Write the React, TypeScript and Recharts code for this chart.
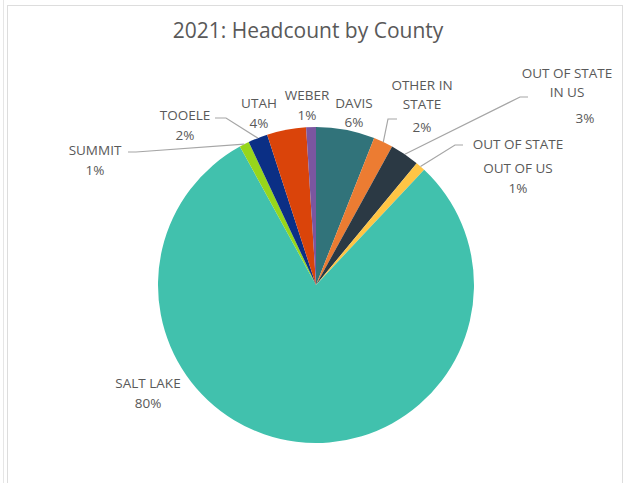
import React from 'react'
import { PieChart, Pie, Cell } from 'recharts'

// Headcount share by county (percent)
const counties = [
  'DAVIS',
  'OTHER IN STATE',
  'OUT OF STATE IN US',
  'OUT OF STATE OUT OF US',
  'SALT LAKE',
  'SUMMIT',
  'TOOELE',
  'UTAH',
  'WEBER',
]
const shares = [6, 2, 3, 1, 80, 1, 2, 4, 1]
const sliceColors = [
  '#31737A',
  '#EC7C32',
  '#2B3944',
  '#FFC545',
  '#41C1AD',
  '#97D61B',
  '#0B2F85',
  '#DA440A',
  '#7B56A0',
]

const data = counties.map((name, i) => ({ name, value: shares[i] }))

const TEXT_COLOR = '#595959'
const LEADER_COLOR = '#A6A6A6'
const FONT = '"Open Sans", "Liberation Sans", sans-serif'

// label placement relative to the pie centre (Excel puts them by hand)
interface LabelLayout {
  dx: number
  dy: number
  gap: number
  pdx?: number
  pdy: number
  leader?: { x1: number; x2: number; y: number }
}

const LABEL_LAYOUT: Record<string, LabelLayout> = {
  'SALT LAKE': { dx: -168, dy: 98, gap: 20, pdy: 118 },
  SUMMIT: { dx: -221, dy: -135, gap: 20, pdy: -115, leader: { x1: -188, x2: -180, y: -133 } },
  TOOELE: { dx: -131, dy: -170, gap: 20, pdy: -150, leader: { x1: -101, x2: -90, y: -167 } },
  UTAH: { dx: -57, dy: -182, gap: 20, pdy: -162 },
  WEBER: { dx: -9, dy: -190, gap: 20, pdy: -170 },
  DAVIS: { dx: 38, dy: -182, gap: 20, pdy: -163 },
  'OTHER IN STATE': { dx: 106, dy: -200, gap: 19, pdy: -158, leader: { x1: 81, x2: 72, y: -166 } },
  'OUT OF STATE IN US': {
    dx: 251,
    dy: -212,
    gap: 19,
    pdx: 269,
    pdy: -167,
    leader: { x1: 212, x2: 204, y: -188 },
  },
  'OUT OF STATE OUT OF US': {
    dx: 202,
    dy: -141,
    gap: 24,
    pdy: -97,
    leader: { x1: 147, x2: 139, y: -140 },
  },
}

const wrap = (text: string, max = 12) => {
  const lines: string[] = []
  let cur = ''
  text.split(' ').forEach((w) => {
    const next = cur ? `${cur} ${w}` : w
    if (next.length > max && cur) {
      lines.push(cur)
      cur = w
    } else {
      cur = next
    }
  })
  if (cur) lines.push(cur)
  return lines
}

const RAD = Math.PI / 180

const renderLabel = (props: any) => {
  const { cx, cy, midAngle, outerRadius, name, percent } = props
  const layout = LABEL_LAYOUT[name]
  if (!layout) return null
  const lines = wrap(name)
  const pct = `${Math.round(percent * 100)}%`
  const ax = cx + outerRadius * Math.cos(-midAngle * RAD)
  const ay = cy + outerRadius * Math.sin(-midAngle * RAD)
  const textProps = {
    fill: TEXT_COLOR,
    fontSize: 13.5,
    fontFamily: FONT,
    textAnchor: 'middle' as const,
    dominantBaseline: 'central' as const,
  }
  return (
    <g key={`lbl-${name}`}>
      {layout.leader && (
        <polyline
          points={`${cx + layout.leader.x1},${cy + layout.leader.y} ${cx + layout.leader.x2},${
            cy + layout.leader.y
          } ${ax},${ay}`}
          fill="none"
          stroke={LEADER_COLOR}
          strokeWidth={1.2}
        />
      )}
      {lines.map((line, i) => (
        <text key={i} x={cx + layout.dx} y={cy + layout.dy + i * layout.gap} {...textProps}>
          {line}
        </text>
      ))}
      <text x={cx + (layout.pdx ?? layout.dx)} y={cy + layout.pdy} {...textProps}>
        {pct}
      </text>
    </g>
  )
}

export default function App() {
  return (
    <div
      style={{
        position: 'fixed',
        left: 0,
        top: 0,
        width: 623,
        height: 483,
        background: '#fff',
        overflow: 'hidden',
      }}
    >
      <div style={{ position: 'absolute', left: 3, top: 0, width: 1, height: 483, background: '#E6E6E6' }} />
      <div
        style={{
          position: 'absolute',
          left: 7,
          top: 5,
          width: 614,
          height: 490,
          border: '1px solid #DDDDDD',
        }}
      />
      <div
        style={{
          position: 'absolute',
          left: 0,
          top: 15,
          width: 616,
          textAlign: 'center',
          fontFamily: FONT,
          fontSize: 21,
          color: TEXT_COLOR,
          lineHeight: '30px',
        }}
      >
        2021: Headcount by County
      </div>
      <div style={{ position: 'absolute', left: 0, top: 0 }}>
        <PieChart width={623} height={483} margin={{ top: 0, right: 0, bottom: 0, left: 0 }}>
          <Pie
            data={data}
            dataKey="value"
            nameKey="name"
            cx={316}
            cy={285}
            outerRadius={158}
            startAngle={90}
            endAngle={-270}
            stroke="none"
            label={renderLabel}
            labelLine={false}
            isAnimationActive={false}
          >
            {data.map((d, i) => (
              <Cell key={d.name} fill={sliceColors[i]} />
            ))}
          </Pie>
        </PieChart>
      </div>
    </div>
  )
}
